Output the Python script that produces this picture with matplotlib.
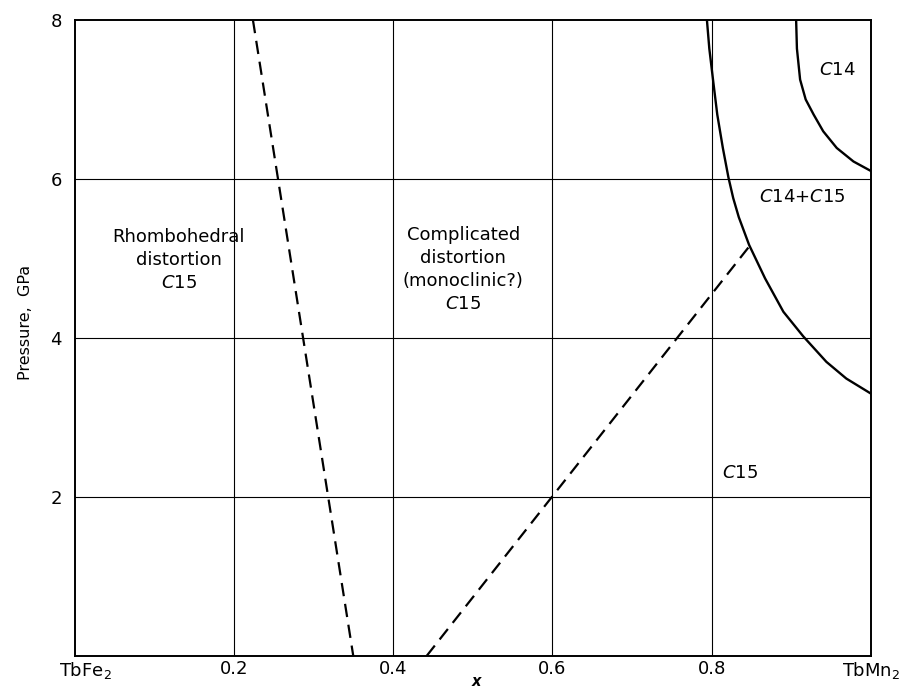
import matplotlib
matplotlib.use("Agg")
import matplotlib.pyplot as plt
import matplotlib.transforms as mtransforms

# ---- data ----
x_ticks = [0.0, 0.2, 0.4, 0.6, 0.8, 1.0]
x_tick_labels = ["TbFe$_2$", "0.2", "0.4", "0.6", "0.8", "TbMn$_2$"]
y_ticks = [2, 4, 6, 8]
y_tick_labels = ["2", "4", "6", "8"]

# dashed boundary: rhombohedral / complicated
dash1_x = [0.224, 0.350]
dash1_y = [8.0, 0.0]
# dashed boundary: complicated / C15
dash2_x = [0.442, 0.847]
dash2_y = [0.0, 5.15]
# solid boundary: C15 / C14+C15
c15_x = [0.794, 0.797, 0.802, 0.807, 0.814, 0.821, 0.827, 0.834, 0.847,
         0.867, 0.890, 0.915, 0.944, 0.969, 1.000]
c15_y = [8.00, 7.64, 7.22, 6.81, 6.39, 6.02, 5.76, 5.52, 5.17,
         4.75, 4.33, 4.02, 3.70, 3.49, 3.30]
# solid boundary: C14+C15 / C14
c14_x = [0.906, 0.907, 0.911, 0.918, 0.928, 0.940, 0.957, 0.978, 1.000]
c14_y = [8.00, 7.64, 7.25, 7.00, 6.81, 6.60, 6.39, 6.22, 6.10]

fig = plt.figure(figsize=(9.01, 6.91), dpi=100)
ax = fig.add_axes([0.0827, 0.0506, 0.8840, 0.9205])
ax.set_xlim(0, 1)
ax.set_ylim(0, 8)

# grid
for gx in [0.2, 0.4, 0.6, 0.8]:
    ax.axvline(gx, color="black", lw=0.8, zorder=1)
for gy in [2, 4, 6]:
    ax.axhline(gy, color="black", lw=0.8, zorder=1)

for s in ax.spines.values():
    s.set_linewidth(1.4)

ax.plot(dash1_x, dash1_y, color="black", lw=1.6, dashes=(6, 3.5), zorder=3)
ax.plot(dash2_x, dash2_y, color="black", lw=1.6, dashes=(6, 3.5), zorder=3)
ax.plot(c15_x, c15_y, color="black", lw=1.7, zorder=3, solid_joinstyle="round")
ax.plot(c14_x, c14_y, color="black", lw=1.7, zorder=3, solid_joinstyle="round")

ax.set_xticks(x_ticks)
ax.set_xticklabels(x_tick_labels, fontsize=13)
ax.set_yticks(y_ticks)
ax.set_yticklabels(y_tick_labels, fontsize=13)
ax.tick_params(axis="x", length=0, pad=3)
ax.tick_params(axis="y", length=0, pad=9)
# shift TbFe2 label right a bit
lab0 = ax.get_xticklabels()[0]
lab0.set_transform(lab0.get_transform() + mtransforms.ScaledTranslation(11/100, 0, fig.dpi_scale_trans))

ax.set_ylabel("Pressure,  GPa", fontsize=11.5)
ax.yaxis.set_label_coords(-0.052, 0.525)
ax.text(0.505, -0.0405, "x", transform=ax.transAxes, fontsize=10.5, style="italic",
        fontweight="bold", ha="center", va="center")

fs = 13
ax.text(0.1306, 4.98, "Rhombohedral\ndistortion\n$\\mathit{C}$15", fontsize=fs, ha="center",
        va="center", linespacing=1.35)
ax.text(0.488, 4.86, "Complicated\ndistortion\n(monoclinic?)\n$\\mathit{C}$15", fontsize=fs, ha="center",
        va="center", linespacing=1.35)
ax.text(0.958, 7.37, "$\\mathit{C}$14", fontsize=fs, ha="center", va="center")
ax.text(0.914, 5.77, "$\\mathit{C}$14+$\\mathit{C}$15", fontsize=fs, ha="center", va="center")
ax.text(0.835, 2.30, "$\\mathit{C}$15", fontsize=fs, ha="center", va="center")

fig.savefig("out.png", dpi=100)
